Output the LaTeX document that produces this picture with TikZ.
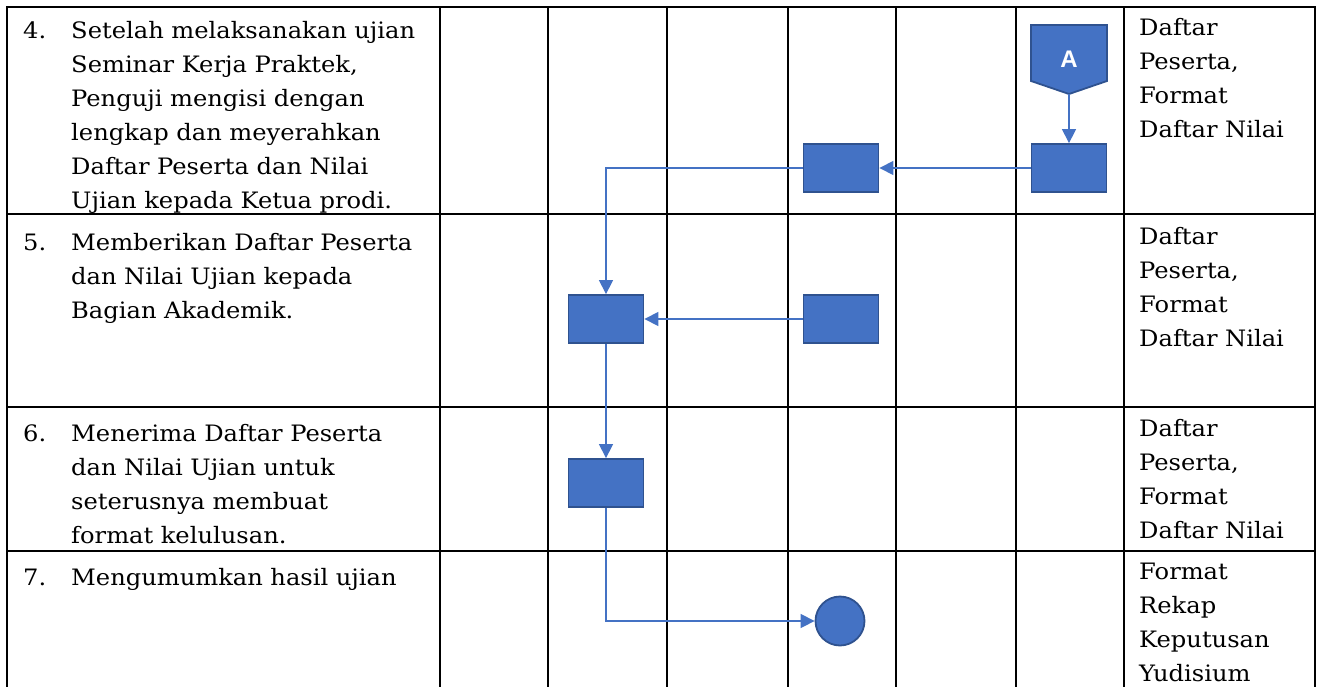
\documentclass[tikz,border=0pt]{standalone}
\usepackage{fontspec}
\setmainfont{DejaVu Serif}[FakeStretch=1.07]
\newfontfamily\labelfont{Liberation Sans}
\usepackage{tikz}
\usetikzlibrary{arrows.meta,positioning,calc}
\definecolor{flow}{HTML}{4472C4}
\definecolor{flowedge}{HTML}{2F528F}

\tikzset{
  grid/.style={line width=2.2pt,line cap=rect},
  cell/.style={inner sep=0pt,anchor=base west,align=left,font=\fontsize{22.6}{34}\selectfont},
  procbox/.style={draw=flowedge,fill=flow,line width=1.8pt,minimum width=75pt,minimum height=48pt,inner sep=0pt},
  endcirc/.style={circle,draw=flowedge,fill=flow,line width=1.8pt,minimum size=49pt,inner sep=0pt},
  offpage/.style={draw=flowedge,fill=flow,line width=1.8pt,line join=miter},
  offlabel/.style={text=white,inner sep=0pt,font=\labelfont\bfseries\fontsize{24}{24}\selectfont},
  flowline/.style={draw=flow,line width=1.3pt,-{Triangle[length=14pt,width=14pt]}}
}

\begin{document}
\begin{tikzpicture}[x=1pt,y=-1pt]
  \fill[white] (0,0) rectangle (1321,687);
  \useasboundingbox (0,0) rectangle (1321,687);
  % table grid, bottom edge runs off the page
  \foreach \x in {7,440,548,667,788,896,1016,1124,1315}
    \draw[grid] (\x,7) -- (\x,687);
  \foreach \y in {7,214,407,551}
    \draw[grid] (7,\y) -- (1315,\y);

  % step texts
  \node[cell] (num4) at (23,39) {4.};
  \node[cell,text width=365pt] (txt4) at (71,39) {Setelah melaksanakan ujian\\Seminar Kerja Praktek,\\Penguji mengisi dengan\\lengkap dan meyerahkan\\Daftar Peserta dan Nilai\\Ujian kepada Ketua prodi.};
  \node[cell,text width=180pt] (doc4) at (1139,36) {Daftar\\Peserta,\\Format\\Daftar Nilai};

  \node[cell] (num5) at (23,250) {5.};
  \node[cell,text width=365pt] (txt5) at (71,250) {Memberikan Daftar Peserta\\dan Nilai Ujian kepada\\Bagian Akademik.};
  \node[cell,text width=180pt] (doc5) at (1139,244) {Daftar\\Peserta,\\Format\\Daftar Nilai};

  \node[cell] (num6) at (23,441) {6.};
  \node[cell,text width=365pt] (txt6) at (71,441) {Menerima Daftar Peserta\\dan Nilai Ujian untuk\\seterusnya membuat\\format kelulusan.};
  \node[cell,text width=180pt] (doc6) at (1139,436) {Daftar\\Peserta,\\Format\\Daftar Nilai};

  \node[cell] (num7) at (23,585) {7.};
  \node[cell,text width=365pt] (txt7) at (71,585) {Mengumumkan hasil ujian};
  \node[cell,text width=180pt] (doc7) at (1139,579) {Format\\Rekap\\Keputusan\\Yudisium};

  % off-page connector A
  \path[offpage] (1031,25) -- (1107,25) -- (1107,81) -- (1069,94) -- (1031,81) -- cycle;
  \node[offlabel] (conA) at (1069,59) {A};
  \coordinate (conAtip) at (1069,94);

  % process boxes
  \node[procbox] (box4r) at (1069,168) {};
  \node[procbox] (box4l) at (841,168) {};
  \node[procbox] (box5r) at (841,319) {};
  \node[procbox] (box5l) at (606,319) {};
  \node[procbox] (box6) at (606,483) {};
  \node[endcirc] (done) at (840,621) {};

  % connectors
  \draw[flowline] (conAtip) -- (box4r.north);
  \draw[flowline] (box4r.west) -- (box4l.east);
  \draw[flowline] (box4l.west) -| (box5l.north);
  \draw[flowline] (box5r.west) -- (box5l.east);
  \draw[flowline] (box5l.south) -- (box6.north);
  \draw[flowline] (box6.south) |- (done.west);
\end{tikzpicture}
\end{document}
